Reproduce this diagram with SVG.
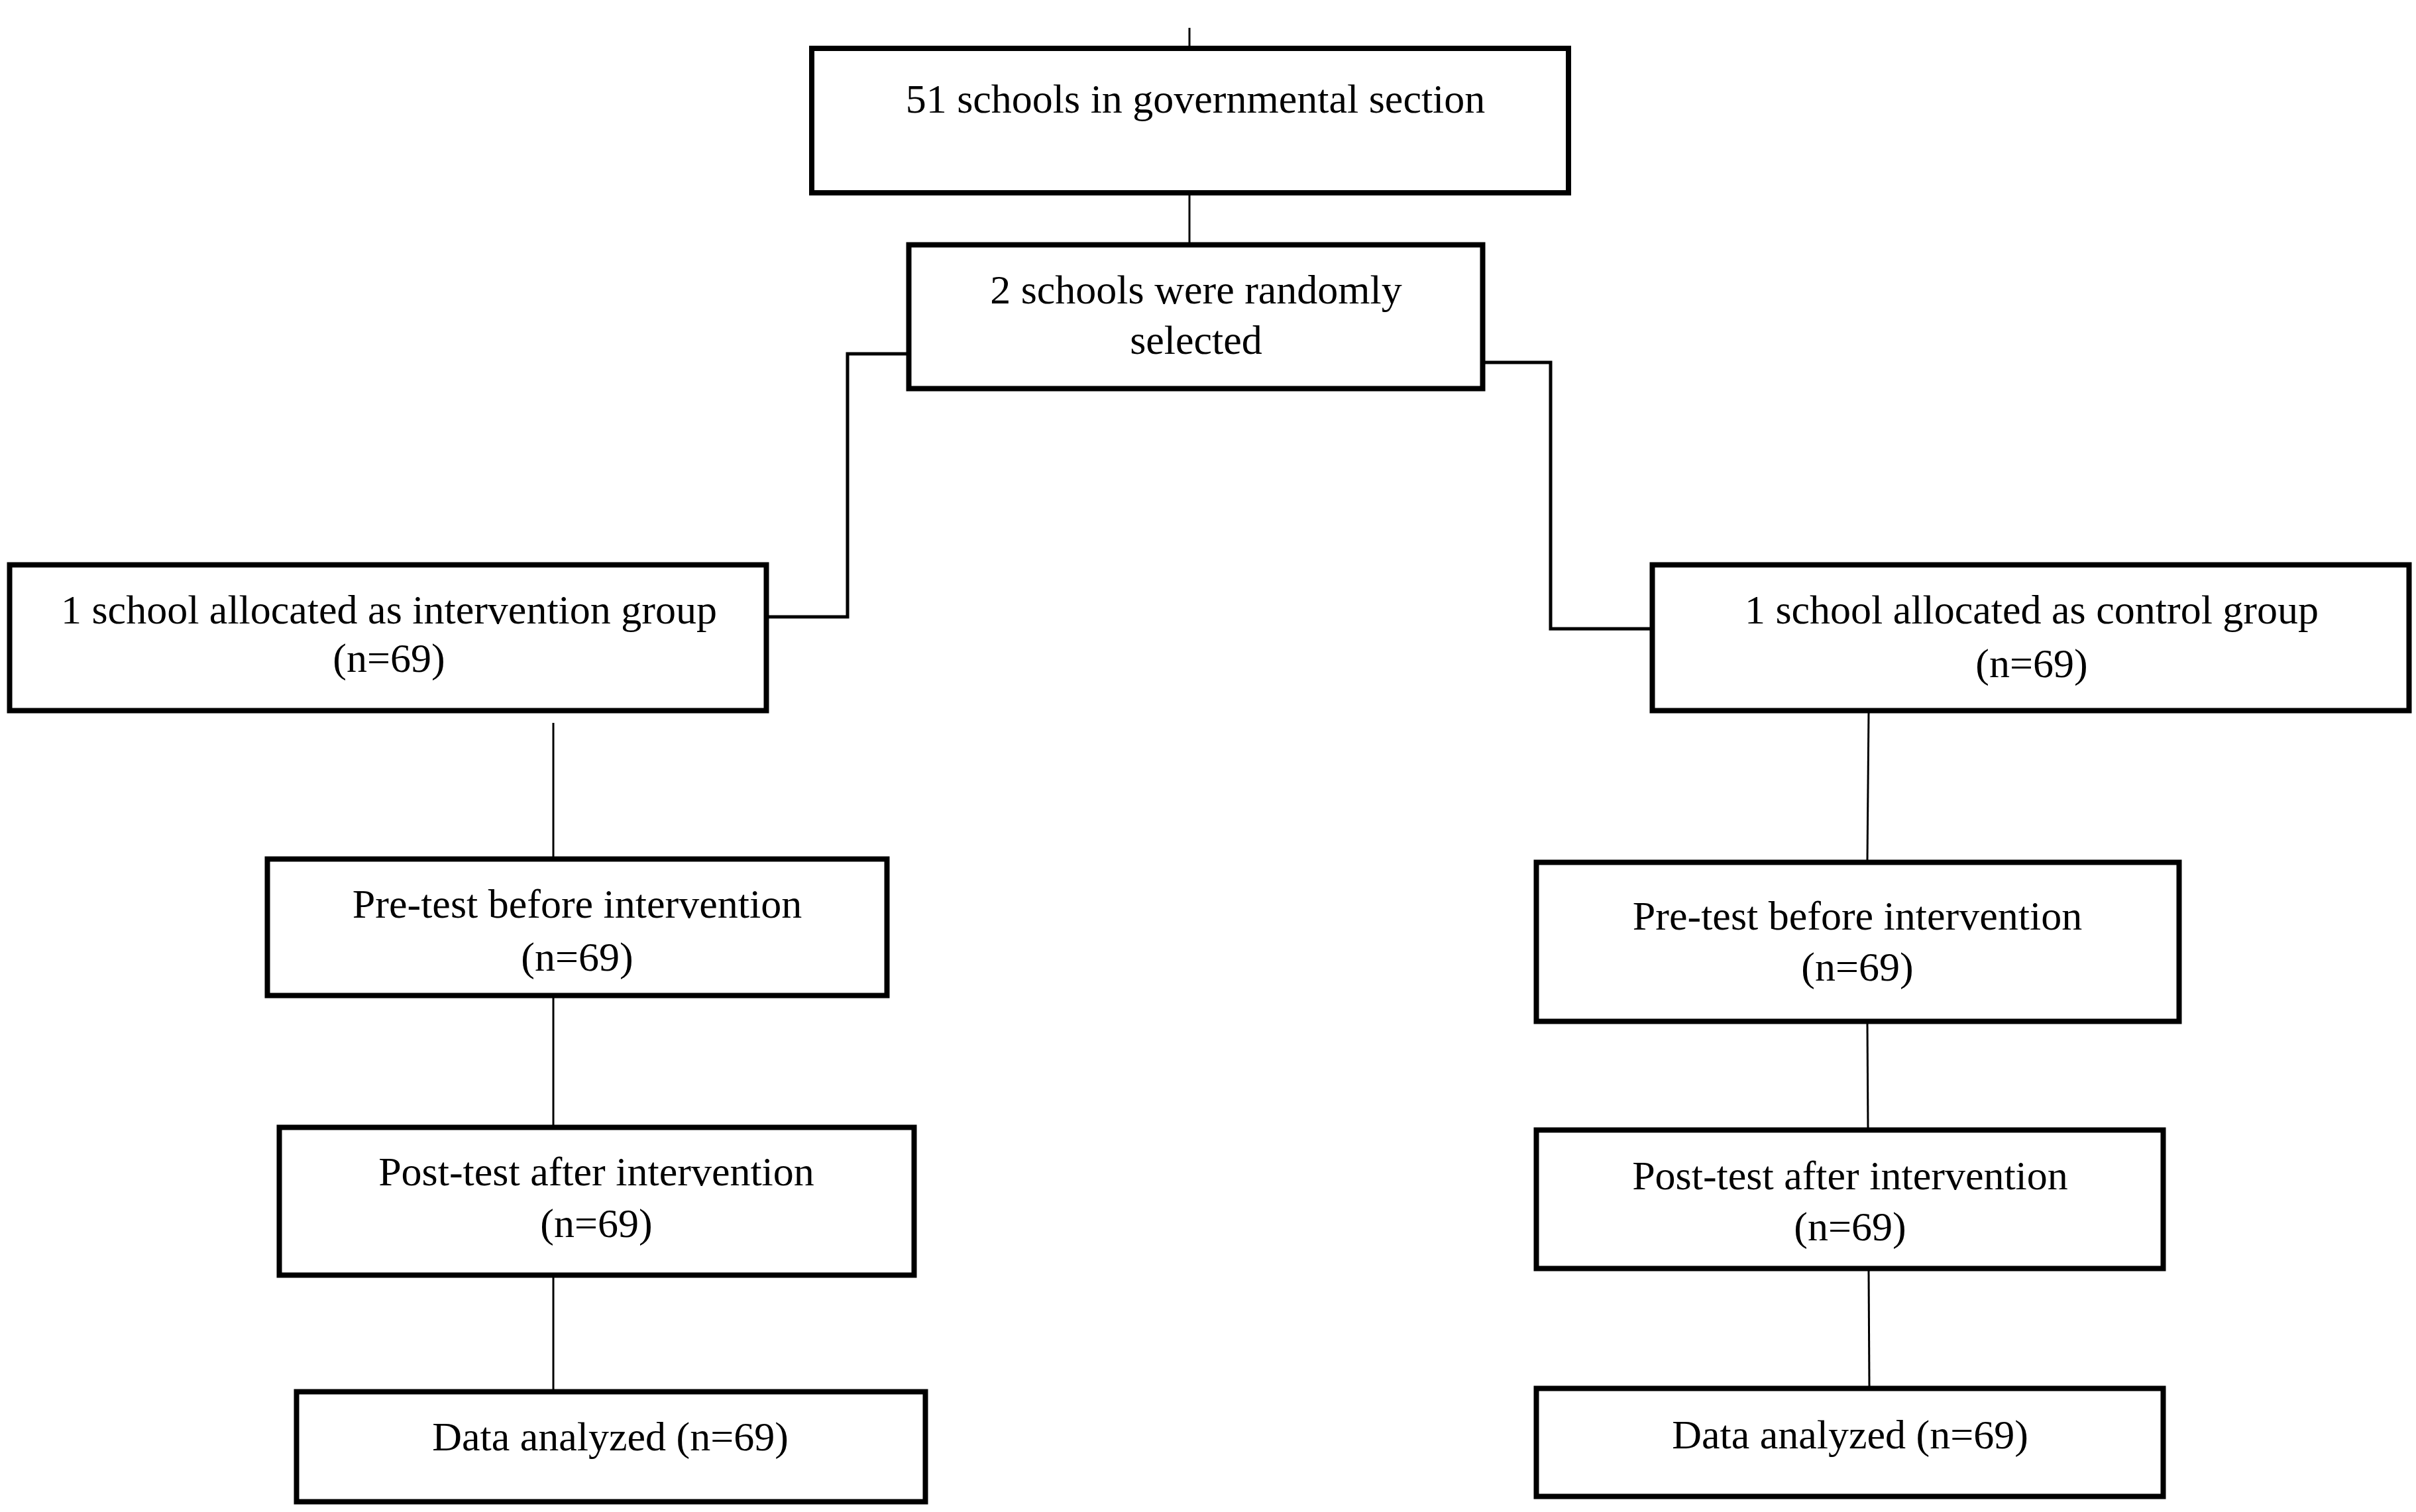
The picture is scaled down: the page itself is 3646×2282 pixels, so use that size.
<svg xmlns="http://www.w3.org/2000/svg" width="3646" height="2282" viewBox="0 0 3646 2282">
<style>
.box{fill:#fff;stroke:#000;stroke-width:8}
.t{font-family:"Liberation Serif","Times New Roman",serif;font-size:62px;fill:#000;text-anchor:middle}
.c{fill:none;stroke:#000;stroke-width:3}
.e{fill:none;stroke:#000;stroke-width:5}
</style>
<rect width="3646" height="2282" fill="#fff"/>
<g id="connectors">
<path class="c" d="M1795,42 V72"/>
<path class="c" d="M1795,294 V368"/>
<path class="e" d="M1368,534 H1279 V931 H1160"/>
<path class="e" d="M2241,547 H2340 V949 H2490"/>
<path class="c" d="M835,1091 V1293"/>
<path class="c" d="M835,1506 V1699"/>
<path class="c" d="M835,1928 V2098"/>
<path class="c" d="M2820,1075 L2818,1299"/>
<path class="c" d="M2818,1545 L2819,1703"/>
<path class="c" d="M2820,1918 L2821,2093"/>
</g>
<g id="n1"><rect class="box" x="1225" y="73" width="1142" height="218"/><text class="t" x="1804" y="170">51 schools in governmental section</text></g>
<g id="n2"><rect class="box" x="1371.5" y="369.5" width="866" height="217"/><text class="t" x="1805" y="458">2 schools were randomly</text><text class="t" x="1805" y="534">selected</text></g>
<g id="n3"><rect class="box" x="14.5" y="852.5" width="1142" height="220"/><text class="t" x="587" y="941">1 school allocated as intervention group</text><text class="t" x="587" y="1014">(n=69)</text></g>
<g id="n4"><rect class="box" x="2493.5" y="852.5" width="1142" height="220"/><text class="t" x="3066" y="941">1 school allocated as control group</text><text class="t" x="3066" y="1022">(n=69)</text></g>
<g id="n5"><rect class="box" x="403.5" y="1296.5" width="935" height="206"/><text class="t" x="871" y="1385">Pre-test before intervention</text><text class="t" x="871" y="1465">(n=69)</text></g>
<g id="n6"><rect class="box" x="421.5" y="1701.5" width="958" height="223"/><text class="t" x="900" y="1789">Post-test after intervention</text><text class="t" x="900" y="1867">(n=69)</text></g>
<g id="n7"><rect class="box" x="447.5" y="2100.5" width="949" height="166"/><text class="t" x="921" y="2189">Data analyzed (n=69)</text></g>
<g id="n8"><rect class="box" x="2318.5" y="1301.5" width="970" height="240"/><text class="t" x="2803" y="1403">Pre-test before intervention</text><text class="t" x="2803" y="1480">(n=69)</text></g>
<g id="n9"><rect class="box" x="2318.5" y="1705.5" width="946" height="209"/><text class="t" x="2792" y="1795">Post-test after intervention</text><text class="t" x="2792" y="1872">(n=69)</text></g>
<g id="n10"><rect class="box" x="2318.5" y="2095.5" width="946" height="163"/><text class="t" x="2792" y="2186">Data analyzed (n=69)</text></g>
</svg>
